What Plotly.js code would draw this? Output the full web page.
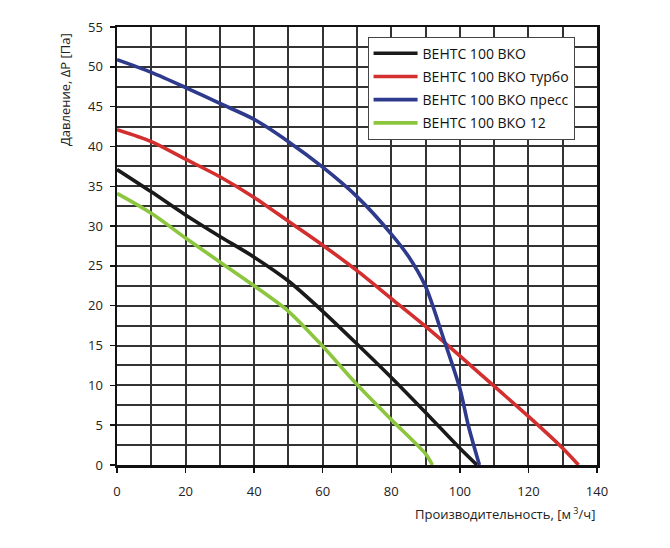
<!DOCTYPE html>
<html><head><meta charset="utf-8">
<script src="https://cdn.plot.ly/plotly-3.0.1.min.js"></script>
<style>html,body{margin:0;padding:0;background:#fff}#c{width:670px;height:548px}</style>
</head><body><div id="c"></div>
<script>
const names = ["ВЕНТС 100 ВКО", "ВЕНТС 100 ВКО турбо", "ВЕНТС 100 ВКО пресс", "ВЕНТС 100 ВКО 12"];
const colors = ["#1a1a1a", "#d32f2f", "#2e3a8c", "#8cc63f"];

const xBlack = [0, 10, 20, 30, 40, 50, 60, 70, 80, 90, 100, 105];
const yBlack = [37.1, 34.3, 31.4, 28.7, 26.1, 23.1, 19.3, 15.2, 11.0, 6.6, 2.1, 0];

const xRed = [0, 10, 20, 30, 40, 50, 60, 70, 80, 90, 100, 110, 120, 130, 134.6];
const yRed = [42.1, 40.6, 38.4, 36.2, 33.6, 30.6, 27.6, 24.4, 20.9, 17.4, 13.7, 9.9, 6.1, 2.1, 0];

const xBlue = [0, 10, 20, 30, 40, 50, 60, 70, 80, 85, 90, 95, 100, 102.5, 105.7];
const yBlue = [50.9, 49.3, 47.4, 45.4, 43.4, 40.6, 37.4, 33.7, 29.0, 26.2, 22.4, 16.2, 9.6, 4.9, 0];

const xGreen = [0, 10, 20, 30, 40, 50, 60, 70, 80, 90, 92];
const yGreen = [34.1, 31.6, 28.5, 25.5, 22.5, 19.3, 14.9, 10.1, 5.7, 1.4, 0];

const xs = [xBlack, xRed, xBlue, xGreen];
const ys = [yBlack, yRed, yBlue, yGreen];

const font = "'Open Sans', 'Noto Sans', sans-serif";

const traces = names.map((n, i) => ({
  x: xs[i], y: ys[i], name: n, type: "scatter", mode: "lines",
  legendgroup: "g" + i,
  line: {color: colors[i], width: 3.6, shape: "spline", smoothing: 0.8}
}));

const gridStyle = {gridcolor: "#333", gridwidth: 2};

const layout = {
  width: 670, height: 548,
  margin: {l: 117, r: 73, t: 27, b: 83},
  paper_bgcolor: "#fff", plot_bgcolor: "#fff",
  font: {family: font, size: 13, color: "#222"},
  showlegend: true,
  legend: {
    x: 0.522, y: 0.978, xanchor: "left", yanchor: "top",
    bgcolor: "#fff", bordercolor: "#444", borderwidth: 1,
    font: {family: font, size: 14, color: "#111"},
    itemwidth: 44,
    tracegroupgap: 2
  },
  xaxis: Object.assign({
    range: [0, 140], dtick: 20, tick0: 0,
    showgrid: true,
    minor: Object.assign({dtick: 10, showgrid: true}, gridStyle),
    showline: true, linecolor: "#111", linewidth: 2.5, mirror: true,
    ticks: "outside", ticklen: 5, tickcolor: "#111", tickwidth: 1.5,
    ticklabelstandoff: 8,
    zeroline: false, fixedrange: true
  }, gridStyle),
  yaxis: Object.assign({
    range: [0, 55], dtick: 5, tick0: 0,
    showgrid: true,
    minor: Object.assign({dtick: 2.5, showgrid: true}, gridStyle),
    showline: true, linecolor: "#111", linewidth: 2.5, mirror: true,
    ticks: "outside", ticklen: 5, tickcolor: "#111", tickwidth: 1.5,
    ticklabelstandoff: 4,
    zeroline: false, fixedrange: true
  }, gridStyle),
  annotations: [
    {text: "Давление, ΔP [Па]", xref: "paper", yref: "paper",
     x: -0.108, y: 0.99, xanchor: "center", yanchor: "top",
     textangle: -90, showarrow: false, font: {family: font, size: 13, color: "#222"}},
    {text: "Производительность, [м<sup> 3</sup>/ч]", xref: "paper", yref: "paper",
     x: 1.0, y: -0.085, xanchor: "right", yanchor: "top",
     showarrow: false, font: {family: font, size: 13, color: "#222"}}
  ]
};

Plotly.newPlot("c", traces, layout, {displayModeBar: false, staticPlot: true});
</script></body></html>
